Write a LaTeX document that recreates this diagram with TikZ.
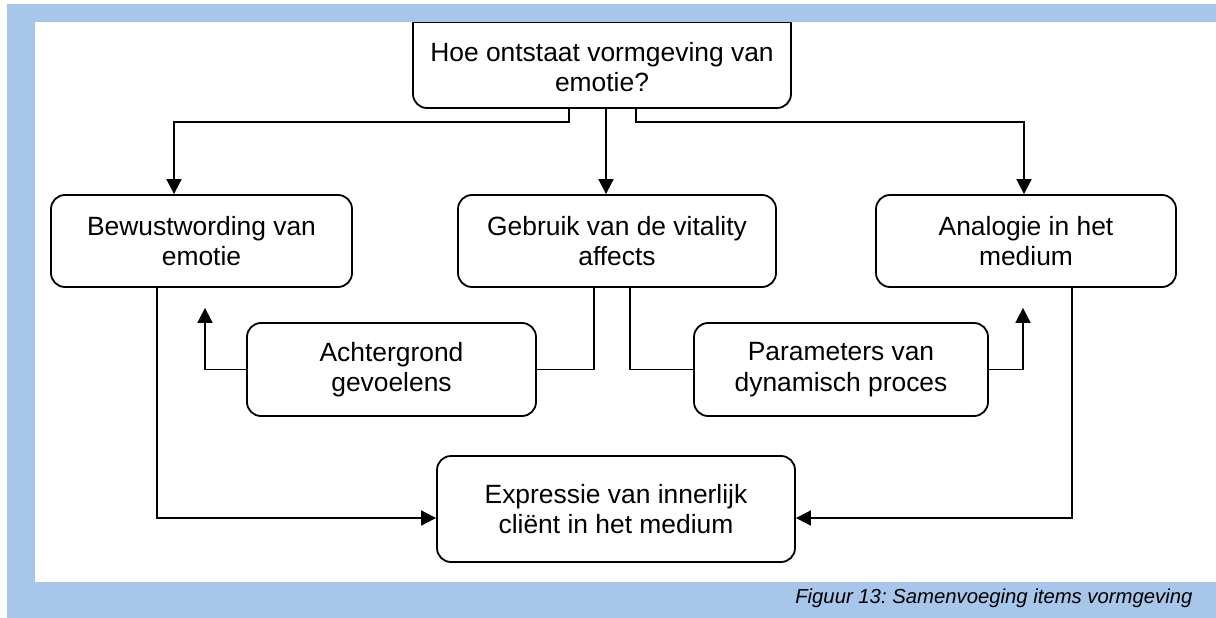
\documentclass[tikz,border=0pt]{standalone}
\usepackage{fontspec}
\setmainfont{Liberation Sans}
\usetikzlibrary{arrows.meta}
\definecolor{kaderblauw}{RGB}{168,198,234}
\frenchspacing
\begin{document}
\begin{tikzpicture}[x=1pt,y=-1pt]
	\tikzset{blok/.style={draw,line width=1.8pt,rounded corners=14pt,align=center,inner sep=0pt,
			font=\fontsize{26.4}{30.4}\selectfont},
		lijn/.style={line width=1.8pt},
		pijl/.style={lijn,-{Triangle[width=15pt,length=15pt]}}}
	\useasboundingbox(0,0)rectangle(1216,618);
	% bovenste vak loopt onder de blauwe balk door
	\node[blok,minimum width=378pt,minimum height=100pt](hoe)at(602,58){};
	\node[align=center,inner sep=0pt,font=\fontsize{26.4}{30.4}\selectfont](hoetekst)at(602,67){Hoe ontstaat vormgeving van\\emotie?};
	\node[blok,minimum width=301pt,minimum height=92pt](bewust)at(201.5,241){Bewustwording van\\emotie};
	\node[blok,minimum width=318pt,minimum height=92pt](gebruik)at(617,241){Gebruik van de vitality\\affects};
	\node[blok,minimum width=300pt,minimum height=92pt](analogie)at(1026,241){Analogie in het\\medium};
	\node[blok,minimum width=289pt,minimum height=93pt](achter)at(391.5,369.5){Achtergrond\\gevoelens};
	\node[blok,minimum width=294pt,minimum height=93pt](param)at(841,369.5){Parameters van\\dynamisch proces};
	\node[blok,minimum width=358pt,minimum height=106pt](expr)at(616,509){Expressie van innerlijk\\cliënt in het medium};
	\fill[kaderblauw](7,4)rectangle(1216,22);
	\fill[kaderblauw](7,4)rectangle(35,618);
	\fill[kaderblauw](7,582)rectangle(1216,618);
	\draw[lijn](hoe.west|-0,22.5)--(hoe.east|-0,22.5);
	\draw[pijl]([xshift=-33pt]hoe.south)--++(0,13)-|([xshift=-27.5pt]bewust.north);
	\draw[pijl]([xshift=4pt]hoe.south)--([xshift=4pt]hoe.south|-gebruik.north);
	\draw[pijl]([xshift=34pt]hoe.south)--++(0,13)-|([xshift=-2pt]analogie.north);
	\draw[pijl](achter.west)-|([xshift=3.5pt,yshift=-20pt]bewust.south);
	\draw[lijn](achter.east)-|([xshift=-23pt]gebruik.south);
	\draw[lijn]([xshift=13pt]gebruik.south)|-(param.west);
	\draw[pijl](param.east)-|([xshift=-3pt,yshift=-20pt]analogie.south);
	\draw[pijl]([xshift=-44.5pt]bewust.south)|-([yshift=-9pt]expr.west);
	\draw[pijl]([xshift=46pt]analogie.south)|-([yshift=-9pt]expr.east);
	\node[anchor=base east,font=\fontsize{20.3}{24}\selectfont\itshape](bijschrift)at(1196,603){Figuur 13: Samenvoeging items vormgeving};
\end{tikzpicture}
\end{document}
